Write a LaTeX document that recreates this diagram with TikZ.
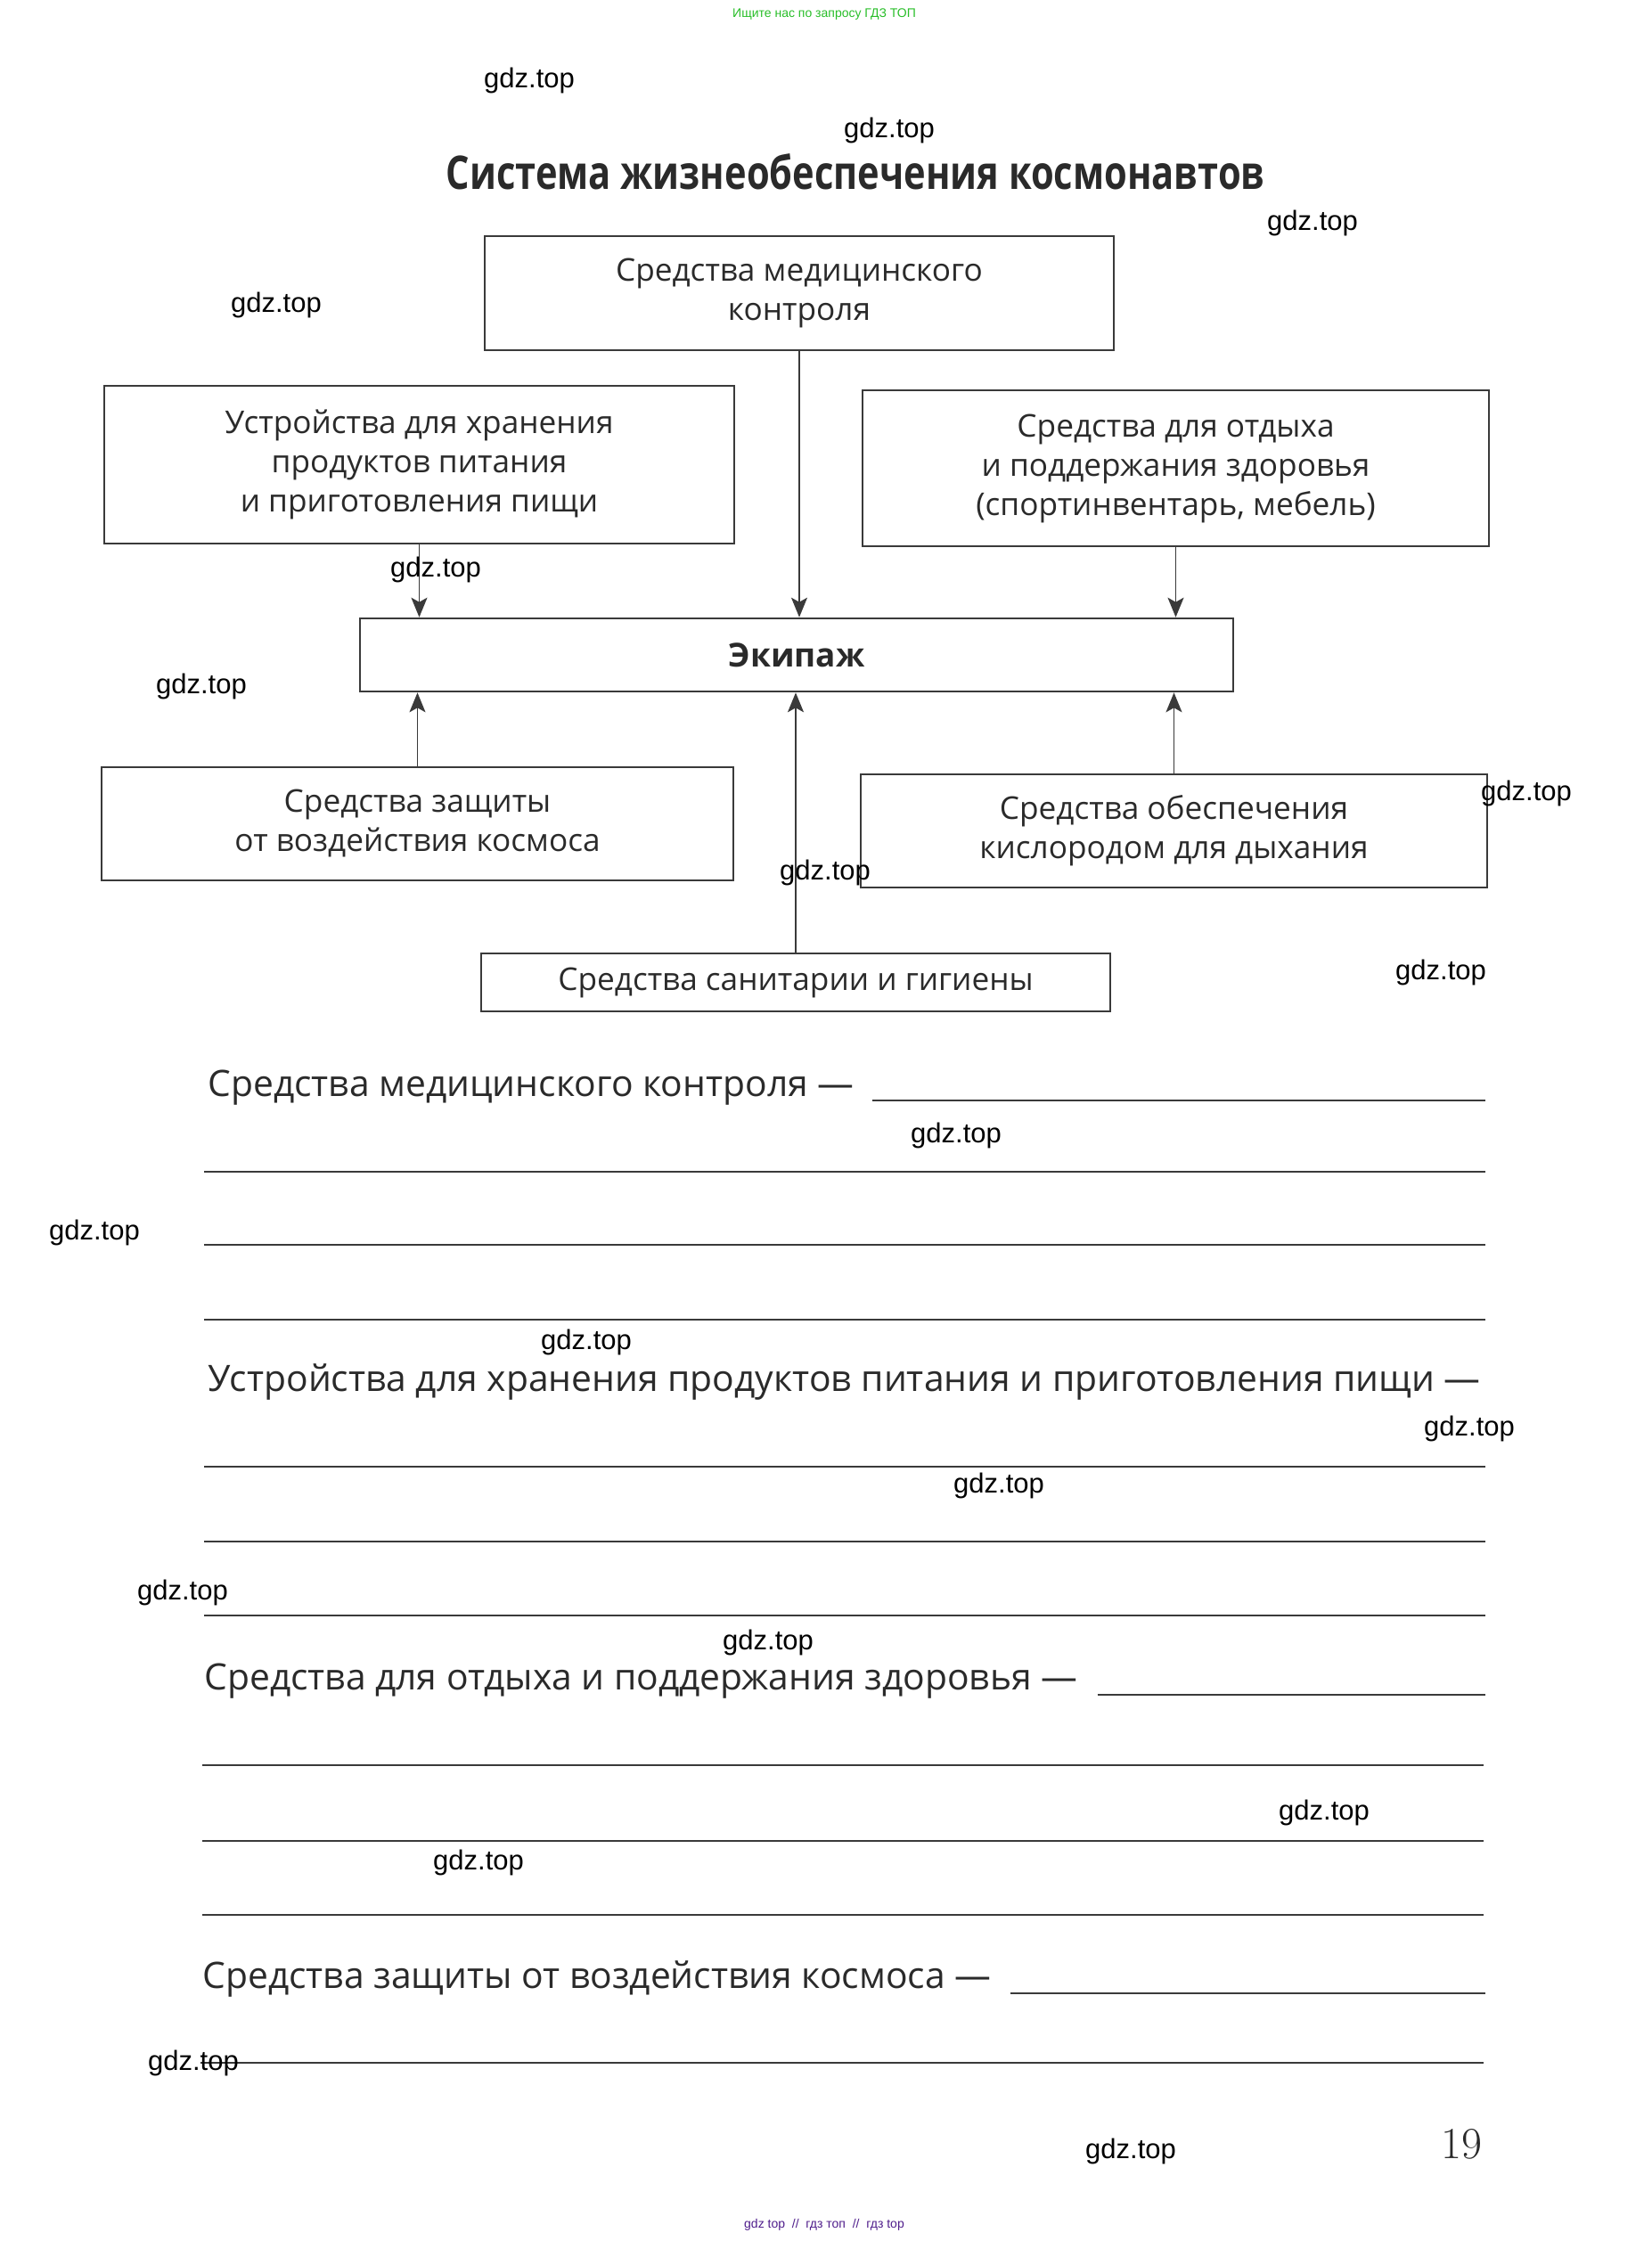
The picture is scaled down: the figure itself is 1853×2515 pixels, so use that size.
\documentclass[tikz,border=0pt]{standalone}
\usepackage{fontspec}
\setmainfont{Open Sans}
\newfontfamily\wmfont{Liberation Sans}
\newfontfamily\titlefont[FakeStretch=0.8]{Open Sans}
\usetikzlibrary{arrows.meta}
\definecolor{ink}{HTML}{2A2A2A}
\definecolor{boxline}{HTML}{3A3A3A}
\definecolor{wmgreen}{RGB}{40,190,40}
\definecolor{wmpurple}{RGB}{80,30,140}
\tikzset{
  box/.style={draw=boxline, line width=1.3pt, inner sep=0pt, align=center, text=ink,
    font=\fontsize{17.6}{22}\selectfont},
  arr/.style={draw=boxline, line width=0.9pt, -{Stealth[length=11pt,width=9pt,inset=2.5pt]}},
  qtext/.style={anchor=base west, inner sep=0pt, text=ink, font=\fontsize{20.4}{24}\selectfont},
  ansline/.style={draw=boxline, line width=1.3pt},
  wm/.style={font=\wmfont\fontsize{15.5}{18}\selectfont, text=black, inner sep=0pt}
}
\begin{document}
\begin{tikzpicture}[x=0.5pt,y=-0.5pt]
\useasboundingbox (0,0) rectangle (1853,2515);
\fill[white] (0,0) rectangle (1853,2515);

% title
\node[anchor=base, inner sep=0pt, text=ink, font=\titlefont\bfseries\fontsize{26}{30}\selectfont, xscale=1] (title) at (960,213) {Система жизнеобеспечения космонавтов};

% boxes
\node[box, minimum width=353pt, minimum height=64pt] (med) at (897,329) {Средства медицинского\\контроля};
\node[box, minimum width=353.5pt, minimum height=88.5pt] (store) at (470.5,521.5) {Устройства для хранения\\продуктов питания\\и приготовления пищи};
\node[box, minimum width=351.5pt, minimum height=87.5pt] (rest) at (1319.5,525.5) {Средства для отдыха\\и поддержания здоровья\\(спортинвентарь, мебель)};
\node[box, minimum width=490pt, minimum height=41pt, font=\bfseries\fontsize{18.5}{22}\selectfont] (crew) at (894,735) {Экипаж};
\node[box, minimum width=354.5pt, minimum height=63.5pt] (prot) at (468.5,924.5) {Средства защиты\\от воздействия космоса};
\node[box, minimum width=351.5pt, minimum height=63.5pt] (oxy) at (1317.5,932.5) {Средства обеспечения\\кислородом для дыхания};
\node[box, minimum width=353pt, minimum height=32.5pt] (san) at (893,1102.5) {Средства санитарии и гигиены};

% connectors
\draw[arr] (store.south) -- (store.south |- crew.north);
\draw[arr] (med.south) -- (med.south |- crew.north);
\draw[arr] (rest.south) -- (rest.south |- crew.north);
\draw[arr] (prot.north) -- (prot.north |- crew.south);
\draw[arr] (san.north) -- (san.north |- crew.south);
\draw[arr] (oxy.north) -- (oxy.north |- crew.south);

% questions
\coordinate (R) at (1667,0);
\node[qtext] (q1) at (233,1230) {Средства медицинского контроля —};
\path (q1.base east) ++(20,5) coordinate (l1);
\draw[ansline] (l1) -- (l1 -| R);
\draw[ansline] (229,1315) -- (1667,1315);
\draw[ansline] (229,1397) -- (1667,1397);
\draw[ansline] (229,1481) -- (1667,1481);

\node[qtext] (q2) at (233,1561) {Устройства для хранения продуктов питания и приготовления пищи —};
\draw[ansline] (229,1646) -- (1667,1646);
\draw[ansline] (229,1730) -- (1667,1730);
\draw[ansline] (229,1813) -- (1667,1813);

\node[qtext] (q3) at (229,1896) {Средства для отдыха и поддержания здоровья —};
\path (q3.base east) ++(22,6) coordinate (l3);
\draw[ansline] (l3) -- (l3 -| R);
\draw[ansline] (227,1981) -- (1665,1981);
\draw[ansline] (227,2066) -- (1665,2066);
\draw[ansline] (227,2149) -- (1665,2149);

\node[qtext] (q4) at (227,2231) {Средства защиты от воздействия космоса —};
\path (q4.base east) ++(21,6) coordinate (l4);
\draw[ansline] (l4) -- (l4 -| R);
\draw[ansline] (225,2315) -- (1665,2315);

% page number
\node[inner sep=0pt, text=ink, font=\fontsize{25}{28}\selectfont] (pg) at (1640,2406) {\fontspec{Latin Modern Roman}19};

% watermarks
\node[wm] (w1) at (594,90) {gdz.top};
\node[wm] (w2) at (998,146) {gdz.top};
\node[wm] (w3) at (1473,250) {gdz.top};
\node[wm] (w4) at (310,342) {gdz.top};
\node[wm] (w5) at (489,639) {gdz.top};
\node[wm] (w6) at (226,770) {gdz.top};
\node[wm] (w7) at (1713,890) {gdz.top};
\node[wm] (w8) at (926,979) {gdz.top};
\node[wm] (w9) at (1617,1091) {gdz.top};
\node[wm] (w10) at (1073,1274) {gdz.top};
\node[wm] (w11) at (106,1383) {gdz.top};
\node[wm] (w12) at (658,1506) {gdz.top};
\node[wm] (w13) at (1649,1603) {gdz.top};
\node[wm] (w14) at (1121,1667) {gdz.top};
\node[wm] (w15) at (205,1787) {gdz.top};
\node[wm] (w16) at (862,1843) {gdz.top};
\node[wm] (w17) at (1486,2034) {gdz.top};
\node[wm] (w18) at (537,2090) {gdz.top};
\node[wm] (w19) at (217,2315) {gdz.top};
\node[wm] (w20) at (1269,2414) {gdz.top};

\node[inner sep=0pt, text=wmgreen, font=\wmfont\fontsize{7}{8}\selectfont] (top) at (925,16) {Ищите нас по запросу ГДЗ ТОП};
\node[inner sep=0pt, text=wmpurple, font=\wmfont\fontsize{7}{8}\selectfont] (bot) at (925,2497) {gdz top \ // \ гдз топ \ // \ гдз top};
\end{tikzpicture}
\end{document}
